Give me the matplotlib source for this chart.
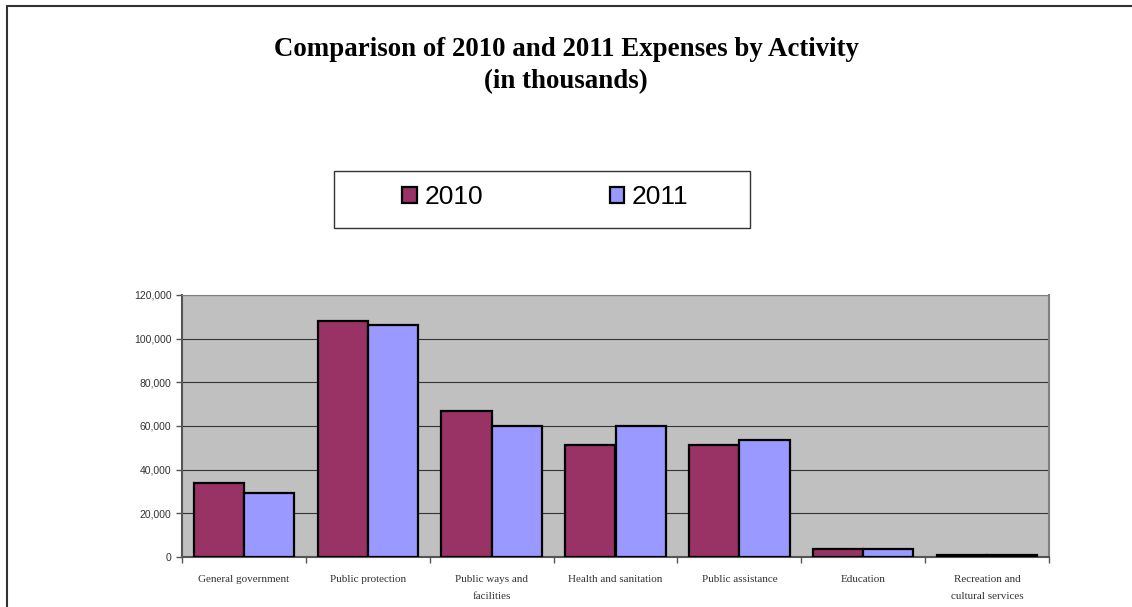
import matplotlib.pyplot as plt
from matplotlib.patches import Rectangle
from matplotlib.ticker import FuncFormatter, FixedLocator
import numpy as np

categories = ["General government", "Public protection", "Public ways and\nfacilities",
              "Health and sanitation", "Public assistance", "Education",
              "Recreation and\ncultural services"]
exp_2010 = [34000, 108200, 67000, 51400, 51400, 3700, 1000]
exp_2011 = [29400, 106300, 59800, 60000, 53400, 3700, 1000]
years = ["2010", "2011"]

c2010 = "#993366"
c2011 = "#9999FF"

fig = plt.figure(figsize=(11.32, 6.07), dpi=100)

# outer chart frame
fig.patches.append(Rectangle((7/1132, -0.05), 1.2, 1 - 6/607 + 0.05, transform=fig.transFigure,
                             fill=False, edgecolor="#333333", linewidth=1.5))

fig.text(0.5, 1 - 49/607, "Comparison of 2010 and 2011 Expenses by Activity",
         ha="center", va="center", fontsize=19.4, fontweight="bold", family="Liberation Serif")
fig.text(0.5, 1 - 82/607, "(in thousands)",
         ha="center", va="center", fontsize=19.4, fontweight="bold", family="Liberation Serif")

ax = fig.add_axes([182/1132, 1 - 557/607, (1049 - 182)/1132, (557 - 295)/607])
ax.set_facecolor("#C0C0C0")

x = np.arange(len(categories))
w = 0.405
b1 = ax.bar(x - w/2, exp_2010, w, color=c2010, edgecolor="black", linewidth=1.6, zorder=3)
b2 = ax.bar(x + w/2, exp_2011, w, color=c2011, edgecolor="black", linewidth=1.6, zorder=3)

ax.set_xlim(-0.5, len(categories) - 0.5)
ax.set_ylim(0, 120000)
ax.set_yticks(np.arange(0, 120001, 20000))
ax.yaxis.set_major_formatter(FuncFormatter(lambda v, p: f"{int(v):,}"))
ax.grid(axis="y", color="#333333", linewidth=0.8, zorder=1)

ax.xaxis.set_major_locator(FixedLocator(np.arange(-0.5, len(categories), 1)))
ax.set_xticklabels([])
ax.tick_params(axis="x", length=4, color="#555555", width=1)
ax.tick_params(axis="y", length=4, color="#555555", width=1, labelsize=7.5, labelcolor="#333333")
for lab in ax.get_yticklabels():
    lab.set_family("Liberation Sans")

for i, name in enumerate(categories):
    ax.text(i, -0.07, name, transform=ax.get_xaxis_transform(), ha="center", va="top",
            fontsize=8, family="Liberation Serif", color="#333333", linespacing=2.05)

for s in ["left", "bottom"]:
    ax.spines[s].set_color("#555555")
    ax.spines[s].set_linewidth(1.5)
ax.spines["top"].set_color("#808080")
ax.spines["right"].set_color("#808080")
ax.spines["right"].set_linewidth(1.5)

# legend box
fig.patches.append(Rectangle((334/1132, 1 - 228/607), (750 - 334)/1132, (228 - 171)/607,
                             transform=fig.transFigure, fill=False, edgecolor="#333333",
                             linewidth=1.0))
leg = fig.legend([b1, b2], years, loc="center", bbox_to_anchor=(545.5/1132, 1 - 197/607),
                 ncol=2, frameon=False, handlelength=0.55, handleheight=0.55,
                 handletextpad=0.3, columnspacing=4.78,
                 prop={"family": "Liberation Sans", "size": 19})

fig.savefig("out.png", dpi=100)
